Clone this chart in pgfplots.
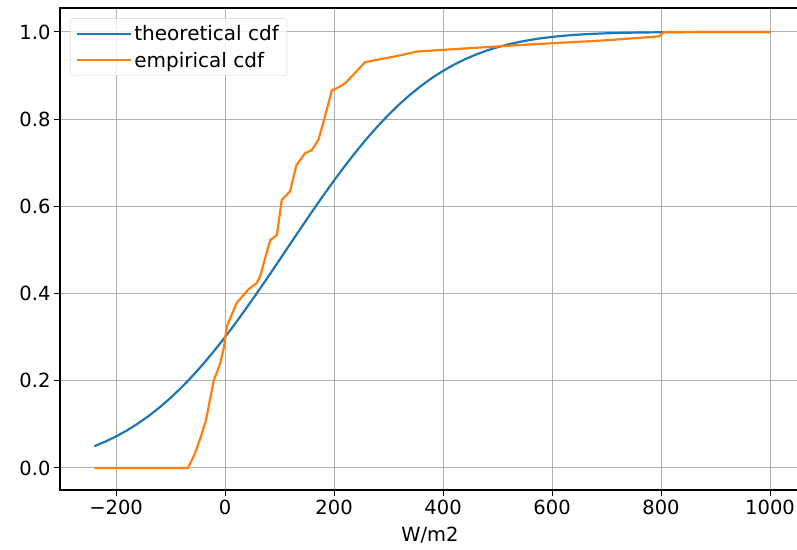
\documentclass[border=0pt]{standalone}
\usepackage{fontspec}
\setmainfont{DejaVu Sans}
\usepackage{pgfplots}
\pgfplotsset{compat=1.18}
\definecolor{mplblue}{HTML}{1F77B4}
\definecolor{mplorange}{HTML}{FF7F0E}
\definecolor{mplgrid}{HTML}{B0B0B0}
\begin{document}
\begin{tikzpicture}
\begin{axis}[
    scale only axis,
    width=740pt, height=482pt,
    xmin=-303, xmax=1055,
    ymin=-0.0505, ymax=1.055,
    xtick={-200,0,200,400,600,800,1000},
    xticklabels={−200,0,200,400,600,800,1000},
    ytick={0,0.2,0.4,0.6,0.8,1.0},
    yticklabels={0.0,0.2,0.4,0.6,0.8,1.0},
    tick pos=left, tick align=outside,
    major tick length=6pt,
    tick style={line width=1pt, black},
    grid=major,
    grid style={line width=1pt, mplgrid},
    axis line style={line width=1.3pt},
    ticklabel style={font=\fontsize{19.5}{23}\selectfont},
    xlabel={W/m2},
    xlabel style={font=\fontsize{19.5}{23}\selectfont, yshift=-6pt},
    legend cell align=left,
    legend style={at={(0.0135,0.979)}, anchor=north west,
        draw=gray!35, rounded corners=3pt, fill=white, fill opacity=0.8, text opacity=1,
        font=\fontsize{20}{24}\selectfont, inner xsep=6pt, inner ysep=5pt,
        row sep=6pt},
    legend image code/.code={\draw[#1] (0pt,0pt) -- (41pt,0pt);
        \path (0pt,0pt) -- (54pt,0pt);},
]
\coordinate (bl) at (rel axis cs:0,0);
\coordinate (tr) at (rel axis cs:1,1);
\addplot[mplblue, line width=2.2pt] coordinates {
(-240,0.0500) (-220,0.0604) (-200,0.0724) (-180,0.0862) (-160,0.1019)
(-140,0.1195) (-120,0.1392) (-100,0.1609) (-80,0.1848) (-60,0.2108)
(-40,0.2388) (-20,0.2687) (0,0.3004) (20,0.3336) (40,0.3684)
(60,0.4040) (80,0.4404) (100,0.4776) (120,0.5149) (140,0.5520)
(160,0.5887) (180,0.6247) (200,0.6595) (220,0.6931) (240,0.7251)
(260,0.7554) (280,0.7838) (300,0.8102) (320,0.8345) (340,0.8567)
(360,0.8768) (380,0.8948) (400,0.9108) (420,0.9250) (440,0.9373)
(460,0.9480) (480,0.9573) (500,0.9651) (520,0.9717) (540,0.9772)
(560,0.9818) (580,0.9856) (600,0.9887) (620,0.9912) (640,0.9932)
(660,0.9948) (680,0.9960) (700,0.9970) (720,0.9978) (760,0.9988)
(800,0.9993) (840,0.9996) (880,0.9998) (920,0.9999) (960,1.0) (1000,1.0)};
\addlegendentry{theoretical cdf}
\addplot[mplorange, line width=2.2pt] coordinates {
(-240,0) (-68,0) (-55,0.034) (-45,0.07) (-35,0.11) (-21,0.20) (-9,0.24)
(-2,0.278) (3,0.324) (10,0.345) (21,0.378) (34,0.397) (43,0.410) (58,0.424)
(64,0.439) (83,0.523) (95,0.534) (104,0.615) (119,0.634) (131,0.695)
(147,0.722) (159,0.729) (171,0.752) (180,0.791) (196,0.866) (205,0.871)
(220,0.882) (240,0.908) (257,0.931) (308,0.943) (352,0.955) (400,0.959)
(540,0.970) (700,0.981) (797,0.990) (805,1.0) (1000,1.0)};
\addlegendentry{empirical cdf}
\end{axis}
\pgfresetboundingbox
\path ([shift={(-60pt,-59pt)}]bl) rectangle ([shift={(-3pt,8pt)}]tr);
\end{tikzpicture}
\end{document}
